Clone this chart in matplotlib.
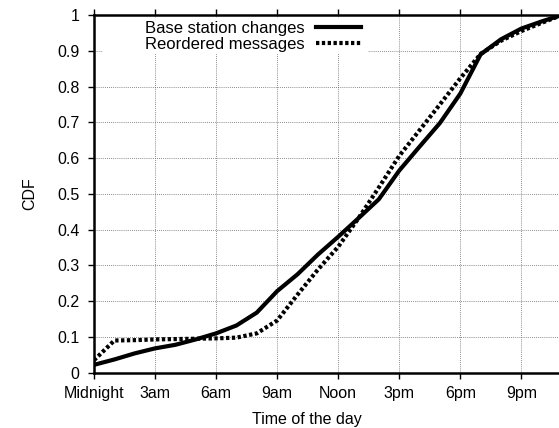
import matplotlib
matplotlib.use("Agg")
import matplotlib.pyplot as plt
from matplotlib.patches import Rectangle

plt.rcParams['font.family'] = ['Liberation Sans', 'DejaVu Sans']
plt.rcParams['font.size'] = 11.5

hours = list(range(24))
base_station = [0.022, 0.037, 0.054, 0.068, 0.078, 0.093, 0.110, 0.132, 0.168, 0.228,
                0.275, 0.330, 0.380, 0.432, 0.485, 0.565, 0.632, 0.698, 0.780, 0.890,
                0.932, 0.962, 0.982, 1.0]
reordered = [0.035, 0.090, 0.091, 0.093, 0.094, 0.095, 0.096, 0.098, 0.110, 0.146,
             0.218, 0.288, 0.352, 0.432, 0.518, 0.606, 0.678, 0.750, 0.823, 0.891,
             0.928, 0.955, 0.978, 1.0]
xtick_pos = [0, 3, 6, 9, 12, 15, 18, 21]
xtick_labels = ["Midnight", "3am", "6am", "9am", "Noon", "3pm", "6pm", "9pm"]
ytick_pos = [0, 0.1, 0.2, 0.3, 0.4, 0.5, 0.6, 0.7, 0.8, 0.9, 1]
ytick_labels = ["0", "0.1", "0.2", "0.3", "0.4", "0.5", "0.6", "0.7", "0.8", "0.9", "1"]

W, H = 559, 428
fig = plt.figure(figsize=(W / 100, H / 100), dpi=100)
# axes box in pixels: left 94, right 562 (just past the edge), top 15, bottom 372.7
AX_L, AX_W, AX_B, AX_H = 94, 468, 372.7, 357.7
ax = fig.add_axes([AX_L / W, (H - AX_B) / H, AX_W / W, AX_H / H])

def px(x, y):
    # pixel position -> axes fraction
    return (x - AX_L) / AX_W, (AX_B - y) / AX_H

ax.plot(hours, base_station, color='black', lw=3, solid_joinstyle='round',
        label="Base station changes", zorder=3)
ax.plot(hours, reordered, color='black', lw=3, linestyle=(0, (0.8, 0.6)),
        label="Reordered messages", zorder=3)

ax.set_xlim(0, 23)
ax.set_ylim(0, 1)
ax.set_xticks(xtick_pos)
ax.set_xticklabels(xtick_labels)
ax.set_yticks(ytick_pos)
ax.set_yticklabels(ytick_labels)
ax.tick_params(direction='out', length=4.5, width=1, top=True)
ax.tick_params(axis='x', pad=5)
ax.tick_params(axis='y', pad=6)
ax.grid(True, color='#666666', linestyle=(0, (1, 1.5)), linewidth=0.6)
ax.set_axisbelow(True)

for s in ['left', 'bottom', 'top']:
    ax.spines[s].set_linewidth(1.8)
ax.spines['right'].set_visible(False)

ax.set_xlabel("Time of the day")
ax.xaxis.set_label_coords(*px(307, 412))
ax.set_ylabel("CDF")
ax.yaxis.set_label_coords(*px(37, 194))

# white key box, like gnuplot's opaque key
x0, y0 = px(103, 54)
x1, y1 = px(368, 18)
ax.add_patch(Rectangle((x0, y0), x1 - x0, y1 - y0, transform=ax.transAxes,
                       facecolor='white', edgecolor='none', zorder=2))

leg = ax.legend(loc='upper right', bbox_to_anchor=px(361, 21),
                markerfirst=False, frameon=False,
                handlelength=2.7, handletextpad=0.7, labelspacing=0.05,
                borderaxespad=0, borderpad=0, fontsize=12)

fig.savefig("out.png", dpi=100)
